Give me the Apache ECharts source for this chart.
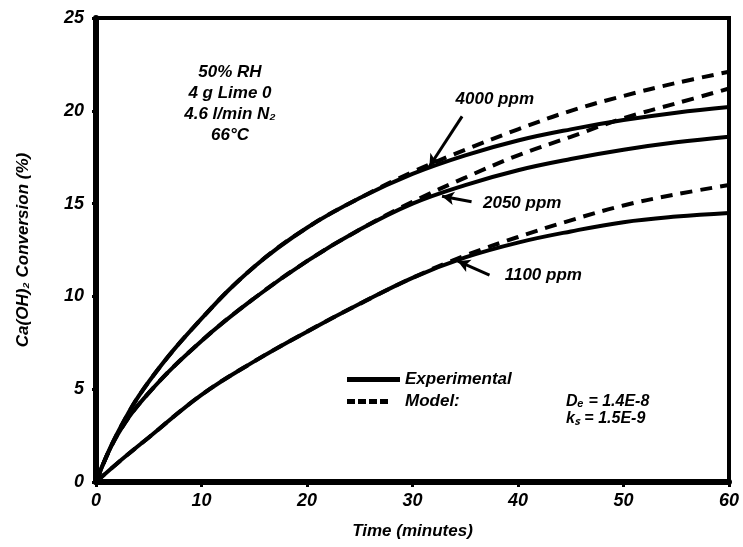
<!DOCTYPE html>
<html>
<head>
<meta charset="utf-8">
<script src="https://cdn.jsdelivr.net/npm/echarts@6/dist/echarts.min.js"></script>
<style>
  html, body { margin: 0; padding: 0; background: #fff; }
  #chart { width: 743px; height: 547px; }
</style>
</head>
<body>
<div id="chart"></div>
<script>
    // time in minutes, conversion in %
    var times = [0, 2, 5, 10, 15, 20, 25, 30, 35, 40, 45, 50, 55, 60];
    var exp4000 = [0, 2.6, 5.4, 8.8, 11.6, 13.7, 15.3, 16.6, 17.6, 18.4, 19.0, 19.5, 19.9, 20.2];
    var model4000 = [0, 2.6, 5.4, 8.8, 11.6, 13.7, 15.3, 16.7, 17.9, 19.0, 20.0, 20.8, 21.5, 22.1];
    var exp2050 = [0, 2.5, 4.8, 7.6, 9.9, 11.9, 13.6, 15.0, 16.0, 16.8, 17.4, 17.9, 18.3, 18.6];
    var model2050 = [0, 2.5, 4.8, 7.6, 9.9, 11.9, 13.6, 15.1, 16.4, 17.6, 18.6, 19.6, 20.4, 21.2];
    var exp1100 = [0, 1.0, 2.4, 4.7, 6.5, 8.1, 9.6, 11.0, 12.1, 12.9, 13.5, 14.0, 14.3, 14.5];
    var model1100 = [0, 1.0, 2.4, 4.7, 6.5, 8.1, 9.6, 11.0, 12.2, 13.2, 14.1, 14.9, 15.5, 16.0];

    // curve labels: [text, label x, label y, arrow tail x, tail y, tip x, tip y]
    var curveLabels = [
        ['4000 ppm', 37.8, 20.6, 34.7, 19.7, 31.6, 17.0],
        ['2050 ppm', 40.4, 15.0, 35.6, 15.1, 32.8, 15.4],
        ['1100 ppm', 42.4, 11.15, 37.3, 11.15, 34.3, 11.9]
    ];
    var conditions = ['50% RH', '4 g Lime 0', '4.6 l/min N\u2082', '66\u00b0C'];

    var font = 'Liberation Sans';

    // legend samples: a solid bar and four short dashes
    var solidIcon = 'path://M0,0h53v5h-53z';
    var dashIcon = 'path://M0,0h8v5h-8zM11,0h8v5h-8zM22,0h8v5h-8zM33,0h8v5h-8zM52.9,2h0.1v0.1h-0.1z';

    function pairs(ys) {
        return times.map(function (t, i) { return [t, ys[i]]; });
    }

    function line(name, ys, dashed) {
        return {
            name: name,
            type: 'line',
            data: pairs(ys),
            smooth: 0.4,
            symbol: 'none',
            z: dashed ? 2 : 3,
            lineStyle: {
                color: '#000',
                width: 4,
                type: dashed ? [12, 8] : 'solid'
            },
            itemStyle: { color: '#000' }
        };
    }

    var chart = echarts.init(document.getElementById('chart'));

    var series = [
        line('Model:', model4000, true),
        line('Model:', model2050, true),
        line('Model:', model1100, true),
        line('Experimental', exp4000, false),
        line('Experimental', exp2050, false),
        line('Experimental', exp1100, false)
    ];

    // arrows and curve labels
    series[3].markLine = {
        silent: true,
        symbol: ['none', 'arrow'],
        symbolSize: [10, 12],
        lineStyle: { color: '#000', width: 3, type: 'solid' },
        label: { show: false },
        data: curveLabels.map(function (c) {
            return [{ coord: [c[3], c[4]] }, { coord: [c[5], c[6]] }];
        })
    };
    series[3].markPoint = {
        silent: true,
        symbol: 'circle',
        symbolSize: 0,
        label: {
            show: true,
            position: 'inside',
            formatter: '{b}',
            color: '#000',
            fontFamily: font,
            fontStyle: 'italic',
            fontWeight: 'bold',
            fontSize: 17
        },
        data: curveLabels.map(function (c) {
            return { name: c[0], coord: [c[1], c[2]] };
        })
    };

    chart.setOption({
        animation: false,
        backgroundColor: '#fff',
        grid: {
            left: 96, right: 14, top: 18, bottom: 65,
            show: true,
            borderColor: '#000',
            borderWidth: 4
        },
        legend: {
            orient: 'vertical',
            left: 342,
            top: 366,
            itemWidth: 53,
            itemHeight: 5,
            itemGap: 5,
            data: [
                { name: 'Experimental', icon: solidIcon },
                { name: 'Model:', icon: dashIcon }
            ],
            textStyle: {
                color: '#000',
                fontFamily: font,
                fontStyle: 'italic',
                fontWeight: 'bold',
                fontSize: 17
            }
        },
        xAxis: {
            type: 'value',
            min: 0, max: 60, interval: 10,
            name: 'Time (minutes)',
            nameLocation: 'middle',
            nameGap: 41,
            nameTextStyle: { color: '#000', fontFamily: font, fontStyle: 'italic', fontWeight: 'bold', fontSize: 17 },
            axisLine: { lineStyle: { color: '#000', width: 6 } },
            axisTick: { length: 5, lineStyle: { color: '#000', width: 3 } },
            axisLabel: { color: '#000', fontFamily: font, fontStyle: 'italic', fontWeight: 'bold', fontSize: 18, margin: 10 },
            splitLine: { show: false }
        },
        yAxis: {
            type: 'value',
            min: 0, max: 25, interval: 5,
            name: 'Ca(OH)\u2082 Conversion (%)',
            nameLocation: 'middle',
            nameGap: 64,
            nameTextStyle: { color: '#000', fontFamily: font, fontStyle: 'italic', fontWeight: 'bold', fontSize: 17 },
            axisLine: { lineStyle: { color: '#000', width: 6 } },
            axisTick: { length: 4, lineStyle: { color: '#000', width: 3 } },
            axisLabel: { color: '#000', fontFamily: font, fontStyle: 'italic', fontWeight: 'bold', fontSize: 18, margin: 12 },
            splitLine: { show: false }
        },
        graphic: [{
            type: 'text',
            x: 230, y: 62,
            style: {
                text: conditions.join('\n'),
                align: 'center',
                verticalAlign: 'top',
                lineHeight: 21,
                fill: '#000',
                font: 'italic bold 17px ' + font
            }
        }, {
            type: 'text',
            x: 566, y: 393,
            style: {
                text: 'D\u2091 = 1.4E-8\nk\u209b = 1.5E-9',
                verticalAlign: 'top',
                lineHeight: 17,
                fill: '#000',
                font: 'italic bold 16px ' + font
            }
        }],
        series: series
    });
</script>
</body>
</html>
